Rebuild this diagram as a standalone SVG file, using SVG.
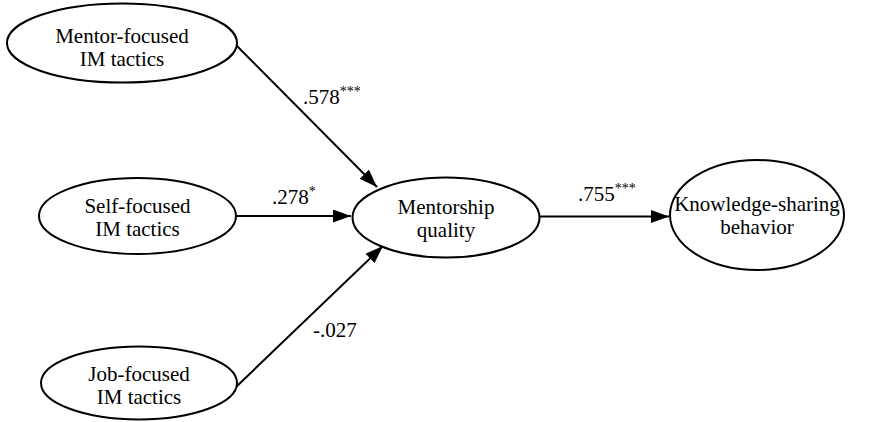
<svg xmlns="http://www.w3.org/2000/svg" width="869" height="422" viewBox="0 0 869 422">
<style>
.n ellipse{fill:#fff;stroke:#000;stroke-width:2}
text{font-family:'Liberation Serif','DejaVu Serif',serif;font-size:21px;fill:#000}
.c{text-anchor:middle}
.e line{stroke:#000;stroke-width:2}
.sup{font-size:14px}
</style>
<defs>
<marker id="ah" markerUnits="userSpaceOnUse" markerWidth="18" markerHeight="13" refX="18" refY="6.5" orient="auto">
<path d="M0,0 L18,6.5 L0,13 Z" fill="#000"/>
</marker>
</defs>
<g id="edges" class="e">
<line x1="235" y1="44" x2="377" y2="187" marker-end="url(#ah)"/>
<line x1="236" y1="216" x2="351" y2="216" marker-end="url(#ah)"/>
<line x1="236" y1="387" x2="383" y2="246" marker-end="url(#ah)"/>
<line x1="540" y1="216.5" x2="669" y2="216.5" marker-end="url(#ah)"/>
<text x="303" y="104">.578<tspan class="sup" dy="-8">***</tspan></text>
<text x="272" y="204">.278<tspan class="sup" dy="-8">*</tspan></text>
<text x="578" y="201">.755<tspan class="sup" dy="-8">***</tspan></text>
<text x="313" y="337">-.027</text>
</g>
<g id="mentor" class="n">
<ellipse cx="122" cy="43" rx="115" ry="39.5"/>
<text class="c" x="122" y="43">Mentor-focused</text>
<text class="c" x="122" y="66">IM tactics</text>
</g>
<g id="self" class="n">
<ellipse cx="137.5" cy="216" rx="98.5" ry="38"/>
<text class="c" x="137.5" y="213">Self-focused</text>
<text class="c" x="137.5" y="236">IM tactics</text>
</g>
<g id="job" class="n">
<ellipse cx="139" cy="383" rx="98" ry="36.5"/>
<text class="c" x="139" y="381">Job-focused</text>
<text class="c" x="139" y="404">IM tactics</text>
</g>
<g id="mentorship" class="n">
<ellipse cx="446" cy="217.5" rx="93.5" ry="40"/>
<text class="c" x="446" y="214">Mentorship</text>
<text class="c" x="446" y="237">quality</text>
</g>
<g id="knowledge" class="n">
<ellipse cx="757" cy="215" rx="87" ry="55"/>
<text class="c" x="757" y="211">Knowledge-sharing</text>
<text class="c" x="757" y="234">behavior</text>
</g>
</svg>
